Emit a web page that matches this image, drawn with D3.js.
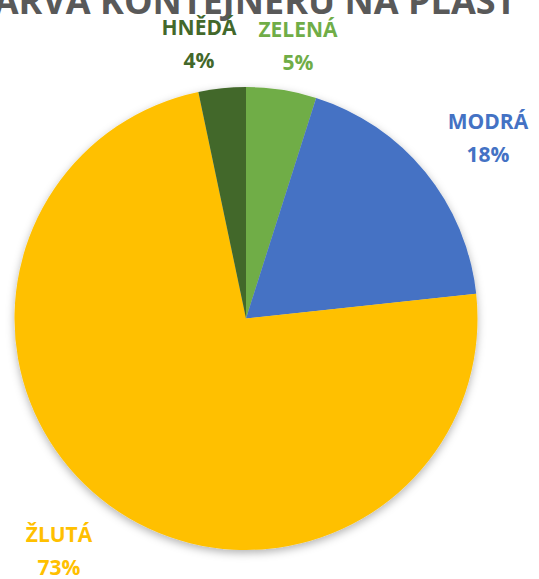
<!DOCTYPE html>
<html><head><meta charset="utf-8">
<script src="https://cdn.jsdelivr.net/npm/d3@7"></script>
<style>html,body{margin:0;padding:0;background:#fff;overflow:hidden}</style>
</head><body>
<svg id="chart" width="539" height="579"></svg>
<script>
const title = "BARVA KONTEJNERŮ NA PLAST";
const categories = ["ZELENÁ", "MODRÁ", "ŽLUTÁ", "HNĚDÁ"];
const values = [4.9, 18.4, 73.4, 3.3];
const labelTexts = ["5%", "18%", "73%", "4%"];
const colors = ["#70AD47", "#4472C4", "#FFC000", "#43682B"];
const labelPos = [[298, 37], [488, 129], [59, 542], [199, 35]];

const svg = d3.select("#chart");
const cx = 246, cy = 318.5, r = 231.5;

const defs = svg.append("defs");
const f = defs.append("filter").attr("id","sh").attr("x","-20%").attr("y","-20%").attr("width","140%").attr("height","140%");
f.append("feDropShadow").attr("dx",0).attr("dy",3).attr("stdDeviation",4).attr("flood-color","#000").attr("flood-opacity",0.3);

svg.append("text").attr("x", cx - 3).attr("y", 14).attr("text-anchor","middle")
  .attr("font-family","'Open Sans', sans-serif").attr("font-weight","bold")
  .attr("font-size", 36).attr("fill","#595959").text(title);

const pie = d3.pie().sort(null).value(d => d)(values);
const arc = d3.arc().innerRadius(0).outerRadius(r);
const g = svg.append("g").attr("transform", `translate(${cx},${cy})`).attr("filter","url(#sh)");
g.selectAll("path").data(pie).join("path")
  .attr("d", arc).attr("fill", (d,i) => colors[i]);

const lg = svg.append("g").attr("font-family","'Open Sans', sans-serif").attr("font-weight","bold").attr("font-size",21);
categories.forEach((c,i) => {
  const t = lg.append("text").attr("text-anchor","middle").attr("fill", colors[i]);
  t.append("tspan").attr("x", labelPos[i][0]).attr("y", labelPos[i][1]).text(c);
  t.append("tspan").attr("x", labelPos[i][0]).attr("y", labelPos[i][1] + 33).text(labelTexts[i]);
});
</script>
</body></html>
